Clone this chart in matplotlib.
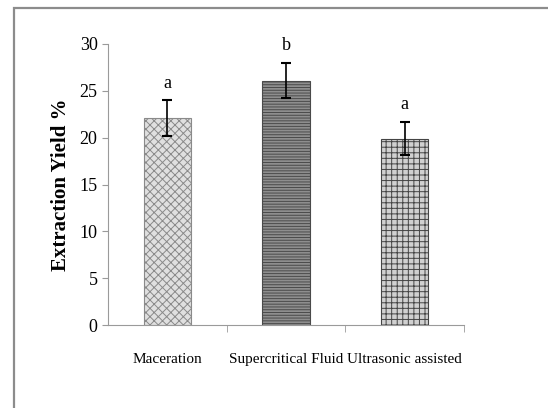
import matplotlib
matplotlib.use("Agg")
import matplotlib.pyplot as plt
from matplotlib.patches import Rectangle

methods = ["Maceration", "Supercritical Fluid", "Ultrasonic assisted"]
yield_pct = [22.1, 26.1, 19.9]
yield_err = [1.9, 1.9, 1.8]
letters = ["a", "b", "a"]

faces = ["#e0e0e0", "#8e8e8e", "#d0d0d0"]
hatches = ["xxxx", "------", "+++"]
edges = ["#8a8a8a", "#4a4a4a", "#444444"]

plt.rcParams["font.family"] = ["Liberation Serif", "DejaVu Serif"]
plt.rcParams["hatch.linewidth"] = 0.7

fig = plt.figure(figsize=(5.48, 4.08), dpi=100)
fig.patch.set_facecolor("white")
fig.add_artist(Rectangle((14/548, -0.05), 1.0, 1 - 8/408 + 0.05, transform=fig.transFigure,
                         fill=False, edgecolor="#8c8c8c", linewidth=1.6))

ax = fig.add_axes([108/548, 83/408, 356/548, 281/408])
x = range(len(methods))
bars = ax.bar(x, yield_pct, width=0.4, color=faces, edgecolor=edges, linewidth=0.8)
for b, h in zip(bars, hatches):
    b.set_hatch(h)
ax.errorbar(x, yield_pct, yerr=yield_err, fmt="none", ecolor="black",
            elinewidth=1.2, capsize=3.5, capthick=1.5)
for i, (v, e, t) in enumerate(zip(yield_pct, yield_err, letters)):
    ax.text(i, v + e + 0.9, t, ha="center", va="bottom", fontsize=13)

ax.set_xlim(-0.5, 2.5)
ax.set_ylim(0, 30)
ax.set_yticks(range(0, 31, 5))
ax.set_xticks(list(x))
ax.set_xticklabels(methods, fontsize=11)
ax.set_xticks([0.5, 1.5, 2.5], minor=True)
ax.tick_params(axis="x", which="major", length=0, pad=20)
ax.tick_params(axis="x", which="minor", length=5, color="#9a9a9a")
ax.tick_params(axis="y", length=4, color="#9a9a9a", labelsize=13)
ax.spines["top"].set_visible(False)
ax.spines["right"].set_visible(False)
ax.spines["left"].set_color("#9a9a9a")
ax.spines["bottom"].set_color("#9a9a9a")
ax.set_ylabel("Extraction Yield %", fontsize=15, fontweight="bold", labelpad=6)

fig.savefig("out.png", dpi=100)
